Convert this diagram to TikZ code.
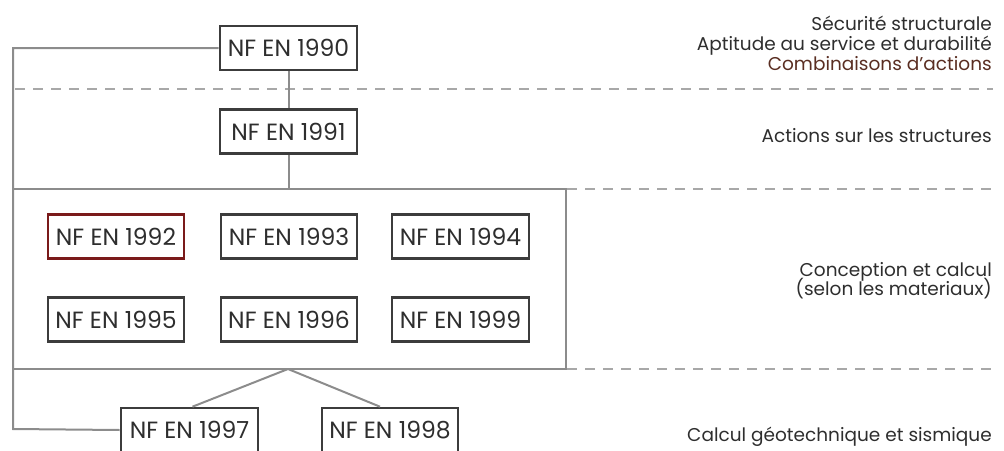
\documentclass[tikz,border=0pt]{standalone}
\usepackage{fontspec}
\setmainfont{Poppins}
\definecolor{boxline}{HTML}{3C3C3C}
\definecolor{connline}{HTML}{8C8C8C}
\definecolor{dashline}{HTML}{A8A8A8}
\definecolor{txt}{HTML}{2E2E2E}
\definecolor{redline}{HTML}{7A1A1A}
\definecolor{brown}{HTML}{5A2E22}
\tikzset{
  nfbox/.style={draw=boxline, line width=2.6pt, fill=white, minimum width=137pt, minimum height=44pt,
    inner sep=0pt, text=txt, font=\fontsize{23.5}{26}\selectfont},
  redbox/.style={nfbox, draw=redline},
  conn/.style={draw=connline, line width=2pt},
  sep/.style={draw=dashline, line width=1.6pt, dash pattern=on 10pt off 8pt},
  grpbox/.style={draw=connline, line width=2pt, minimum width=553pt, minimum height=180pt, inner sep=0pt},
  lbl/.style={anchor=base east, text=txt, font=\fontsize{18.5}{22}\selectfont, inner sep=0pt}
}
\begin{document}
\begin{tikzpicture}[x=1pt,y=-1pt]
\useasboundingbox (0,0) rectangle (1004,450);
% dashed separators
\coordinate (d1a) at (15,89); \coordinate (d1b) at (993,89);
\coordinate (d2a) at (567,189); \coordinate (d2b) at (993,189);
\coordinate (d3a) at (567,369); \coordinate (d3b) at (993,369);
\draw[sep] (d1a) -- (d1b);
\draw[sep] (d2a) -- (d2b);
\draw[sep] (d3a) -- (d3b);
% group box
\node[grpbox] (grp) at (289.5,279) {};
% boxes
\node[nfbox] (n1990) at (288.5,48) {NF EN 1990};
\node[nfbox] (n1991) at (288.5,131.5) {NF EN 1991};
\node[redbox, minimum width=136pt] (n1992) at (116,236.5) {NF EN 1992};
\node[nfbox, minimum width=136pt] (n1993) at (289,236.5) {NF EN 1993};
\node[nfbox] (n1994) at (460.5,236.5) {NF EN 1994};
\node[nfbox, minimum width=136pt] (n1995) at (116,319.5) {NF EN 1995};
\node[nfbox, minimum width=136pt] (n1996) at (289,319.5) {NF EN 1996};
\node[nfbox] (n1999) at (460.5,319.5) {NF EN 1999};
\node[nfbox] (n1997) at (189.5,430) {NF EN 1997};
\node[nfbox, minimum width=136pt] (n1998) at (390,430) {NF EN 1998};
% connectors
\coordinate (ltop) at (13,48);
\coordinate (lbot) at (13,429);
\coordinate (apex) at (288,369);
\draw[conn] (n1990.west) -- (ltop) -- (lbot) -- (n1997.west);
\draw[conn] (n1990.south) -- (n1991.north);
\draw[conn] (n1991.south) -- (n1991.south |- grp.north);
\draw[conn] (apex) -- ([xshift=3pt]n1997.north);
\draw[conn] (apex) -- ([xshift=-10pt]n1998.north);
% labels
\node[lbl] (l1) at (992,30) {Sécurité structurale};
\node[lbl] (l2) at (992,50) {Aptitude au service et durabilité};
\node[lbl, text=brown] (l3) at (992,70) {Combinaisons d’actions};
\node[lbl] (l4) at (992,142) {Actions sur les structures};
\node[lbl] (l5) at (992,276) {Conception et calcul};
\node[lbl] (l6) at (992,295) {(selon les materiaux)};
\node[lbl] (l7) at (992,441) {Calcul géotechnique et sismique};
\end{tikzpicture}
\end{document}
